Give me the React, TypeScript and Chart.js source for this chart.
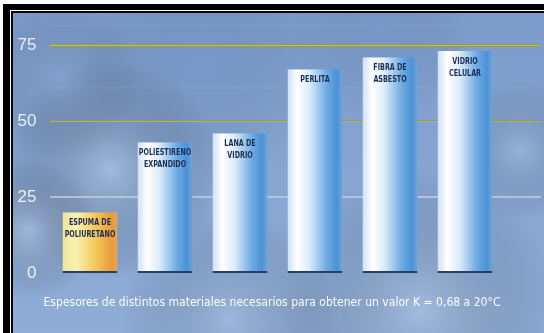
import React, { useEffect, useRef } from "react";
import { Chart, registerables } from "chart.js";

Chart.register(...registerables);

const categories: string[][] = [
  ["ESPUMA DE", "POLIURETANO"],
  ["POLIESTIRENO", "EXPANDIDO"],
  ["LANA DE", "VIDRIO"],
  ["PERLITA"],
  ["FIBRA DE", "ASBESTO"],
  ["VIDRIO", "CELULAR"],
];
const values: number[] = [20, 43, 46, 67, 71, 73];
const tickValues: number[] = [0, 25, 50, 75];
const tickLabels: string[] = ["0", "25", "50", "75"];
const caption = "Espesores de distintos materiales necesarios para obtener un valor K = 0,68 a 20°C";

const W = 544;
const H = 333;

function condensedText(ctx: CanvasRenderingContext2D, text: string, cx: number, cy: number, sx: number) {
  ctx.save();
  ctx.translate(cx, cy);
  ctx.scale(sx, 1);
  ctx.fillText(text, 0, 0);
  ctx.restore();
}

const backgroundPlugin = {
  id: "bgFrame",
  beforeDraw(chart: any) {
    const ctx = chart.ctx as CanvasRenderingContext2D;
    ctx.save();
    ctx.fillStyle = "#ffffff";
    ctx.fillRect(0, 0, W, H);
    ctx.fillStyle = "#000000";
    ctx.fillRect(3, 4, W, H);
    ctx.fillStyle = "#ffffff";
    ctx.fillRect(10, 10, W, 1);
    ctx.fillRect(10, 10, 1, H);
    ctx.fillStyle = "#000000";
    ctx.fillRect(11, 11, W, H);
    const x0 = 13, y0 = 13;
    ctx.beginPath();
    ctx.rect(x0, y0, W - x0, H - y0);
    ctx.clip();
    const g = ctx.createLinearGradient(0, y0, 0, H);
    g.addColorStop(0, "#7c9bcb");
    g.addColorStop(0.5, "#86a5d1");
    g.addColorStop(1, "#8fadd6");
    ctx.fillStyle = g;
    ctx.fillRect(x0, y0, W, H);
    const blobs: [number, number, number, string][] = [
      [110, 170, 110, "rgba(200,216,238,0.40)"],
      [30, 230, 70, "rgba(205,220,242,0.35)"],
      [420, 310, 140, "rgba(200,218,242,0.35)"],
      [230, 320, 110, "rgba(195,212,238,0.30)"],
      [520, 150, 70, "rgba(200,215,240,0.30)"],
      [200, 60, 120, "rgba(90,120,180,0.15)"],
      [60, 80, 80, "rgba(150,175,215,0.25)"],
      [380, 30, 90, "rgba(95,125,185,0.15)"],
    ];
    for (const [bx, by, br, c] of blobs) {
      const rg = ctx.createRadialGradient(bx, by, 0, bx, by, br);
      rg.addColorStop(0, c);
      rg.addColorStop(1, "rgba(0,0,0,0)");
      ctx.fillStyle = rg;
      ctx.fillRect(bx - br, by - br, br * 2, br * 2);
    }
    ctx.fillStyle = "rgba(120,190,190,0.15)";
    ctx.fillRect(50, 24, 480, 3);
    ctx.fillRect(50, 86, 480, 3);
    ctx.restore();
  },
  beforeDatasetsDraw(chart: any) {
    const ctx = chart.ctx as CanvasRenderingContext2D;
    const ys = chart.scales.y;
    ctx.save();
    for (const v of tickValues) {
      if (v === 0) continue;
      const y = Math.round(ys.getPixelForValue(v));
      if (v === 75) {
        ctx.fillStyle = "#969a42";
        ctx.fillRect(50, y - 1, 491, 3);
        ctx.fillStyle = "rgba(205,205,120,0.7)";
        ctx.fillRect(50, y, 491, 1);
      } else if (v === 50) {
        ctx.fillStyle = "#8f9765";
        ctx.fillRect(50, y - 1, 491, 2);
        ctx.fillStyle = "rgba(200,205,160,0.5)";
        ctx.fillRect(50, y, 491, 1);
      } else {
        ctx.fillStyle = "rgba(185,198,215,0.9)";
        ctx.fillRect(50, y - 1, 491, 2);
      }
    }
    ctx.restore();
  },
  afterDatasetsDraw(chart: any) {
    const ctx = chart.ctx as CanvasRenderingContext2D;
    const meta = chart.getDatasetMeta(0);
    ctx.save();
    ctx.fillStyle = "#1c2c55";
    ctx.font = "bold 8px 'DejaVu Sans', sans-serif";
    ctx.textAlign = "center";
    ctx.textBaseline = "middle";
    meta.data.forEach((el: any, i: number) => {
      const lines = categories[i];
      lines.forEach((ln, j) => {
        condensedText(ctx, ln, el.x, el.y + 11 + j * 12, 0.8);
      });
    });
    ctx.fillStyle = "rgba(255,255,255,0.95)";
    ctx.font = "12px 'DejaVu Sans', sans-serif";
    const tw = ctx.measureText(caption).width;
    condensedText(ctx, caption, 272, 303, 457 / tw);
    ctx.restore();
  },
};

function barFill(ctx: any) {
  const chart = ctx.chart;
  const xs = chart.scales?.x;
  if (!xs || !chart.chartArea) return "#6aa6dc";
  const c = xs.getPixelForValue(ctx.dataIndex);
  const w = (xs.width / categories.length) * 0.733;
  const g = chart.ctx.createLinearGradient(c - w / 2, 0, c + w / 2, 0);
  if (ctx.dataIndex === 0) {
    g.addColorStop(0, "#efe59a");
    g.addColorStop(0.25, "#faf2b0");
    g.addColorStop(0.6, "#f1c85a");
    g.addColorStop(0.9, "#e89a3c");
    g.addColorStop(1, "#e8a650");
  } else {
    g.addColorStop(0, "#cfe0f4");
    g.addColorStop(0.18, "#ffffff");
    g.addColorStop(0.4, "#dcebf9");
    g.addColorStop(0.72, "#6caae2");
    g.addColorStop(0.9, "#4d91d5");
    g.addColorStop(1, "#6ea6dc");
  }
  return g;
}

export default function App() {
  const ref = useRef<HTMLCanvasElement | null>(null);
  useEffect(() => {
    if (!ref.current) return;
    const chart = new Chart(ref.current, {
      type: "bar",
      data: {
        labels: categories,
        datasets: [
          {
            data: values,
            backgroundColor: barFill as any,
            borderColor: "#2a3f68",
            borderWidth: { top: 0, left: 0, right: 0, bottom: 2 } as any,
            borderSkipped: false,
            categoryPercentage: 1,
            barPercentage: 0.733,
          },
        ],
      },
      plugins: [backgroundPlugin],
      options: {
        responsive: false,
        animation: false,
        events: [],
        layout: { padding: { left: 0, right: 41.5, top: 45, bottom: 60 } },
        plugins: { legend: { display: false }, tooltip: { enabled: false }, title: { display: false } },
        scales: {
          x: { display: false, offset: true },
          y: {
            min: 0,
            max: 75,
            afterFit: (s: any) => {
              s.width = 52.5;
            },
            ticks: {
              stepSize: 25,
              color: "rgba(255,255,255,0.85)",
              font: { size: 17, family: "'Liberation Sans', Arial, sans-serif" },
              padding: 8,
              callback: (v: any) => {
                const i = tickValues.indexOf(Number(v));
                return i >= 0 ? tickLabels[i] : "";
              },
            },
            grid: { display: false },
            border: { display: false },
          },
        },
      },
    });
    return () => chart.destroy();
  }, []);
  return (
    <div style={{ position: "fixed", left: 0, top: 0, width: W, height: H, overflow: "hidden" }}>
      <canvas ref={ref} width={W} height={H} style={{ display: "block", width: W, height: H }} />
    </div>
  );
}
